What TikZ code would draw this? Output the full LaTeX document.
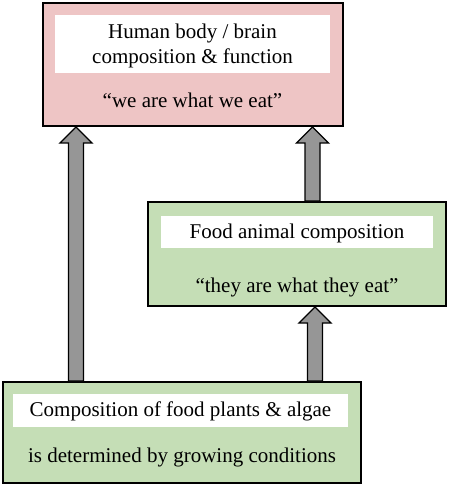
\documentclass[tikz,border=0pt]{standalone}
\usepackage{fontspec}
\setmainfont{Liberation Serif}
\usetikzlibrary{calc}
\definecolor{pinkfill}{RGB}{238,197,197}
\definecolor{greenfill}{RGB}{197,222,182}
\definecolor{arrowgray}{RGB}{150,150,150}
\begin{document}
\begin{tikzpicture}[x=1pt,y=-1pt,
  outerbox/.style={draw=black, line width=2pt, inner sep=0pt, rectangle},
  pinkbox/.style={outerbox, fill=pinkfill},
  greenbox/.style={outerbox, fill=greenfill},
  whitebox/.style={fill=white, draw=none, inner sep=0pt, rectangle},
  txt/.style={inner sep=0pt, align=center, font=\fontsize{21}{25}\selectfont},
  fatarrow/.style={draw=black, line width=1.4pt, fill=arrowgray, line join=miter}
]
\useasboundingbox (0,0) rectangle (448,486);
% boxes
\node[pinkbox, minimum width=300pt, minimum height=123pt] (top) at (193,64.5) {};
\node[whitebox, minimum width=275pt, minimum height=58pt] (topw) at (192.5,44) {};
\node[txt] (toptxt) at (192.5,46) {Human body / brain\\composition \& function};
\node[txt] (topq) at (192.5,100) {“we are what we eat”};

\node[greenbox, minimum width=298pt, minimum height=104pt] (mid) at (297,254) {};
\node[whitebox, minimum width=272pt, minimum height=32pt] (midw) at (297,232) {};
\node[txt] (midtxt) at (297,233) {Food animal composition};
\node[txt] (midq) at (297,287) {“they are what they eat”};

\node[greenbox, minimum width=358pt, minimum height=101pt] (bot) at (182,432.5) {};
\node[whitebox, minimum width=335pt, minimum height=33pt] (botw) at (180.5,410.5) {};
\node[txt] (bottxt) at (180.5,411) {Composition of food plants \& algae};
\node[txt] (botq) at (182,457) {is determined by growing conditions};

% arrow columns
\coordinate (xl) at (76,0);
\coordinate (xr) at (312.5,0);
\coordinate (xm) at (315,0);

\newcommand\bigarrow[3]{%
  \draw[fatarrow] let \p1=(#2.north -| #1), \p2=(#3.south -| #1) in
    (\x1-7.5pt,\y1) -- (\x1-7.5pt,\y2-16pt) -- (\x1-16pt,\y2-16pt) -- (\x1,\y2)
    -- (\x1+16pt,\y2-16pt) -- (\x1+7.5pt,\y2-16pt) -- (\x1+7.5pt,\y1) -- cycle;}
\bigarrow{xl}{bot}{top}
\bigarrow{xr}{mid}{top}
\bigarrow{xm}{bot}{mid}
\end{tikzpicture}
\end{document}
